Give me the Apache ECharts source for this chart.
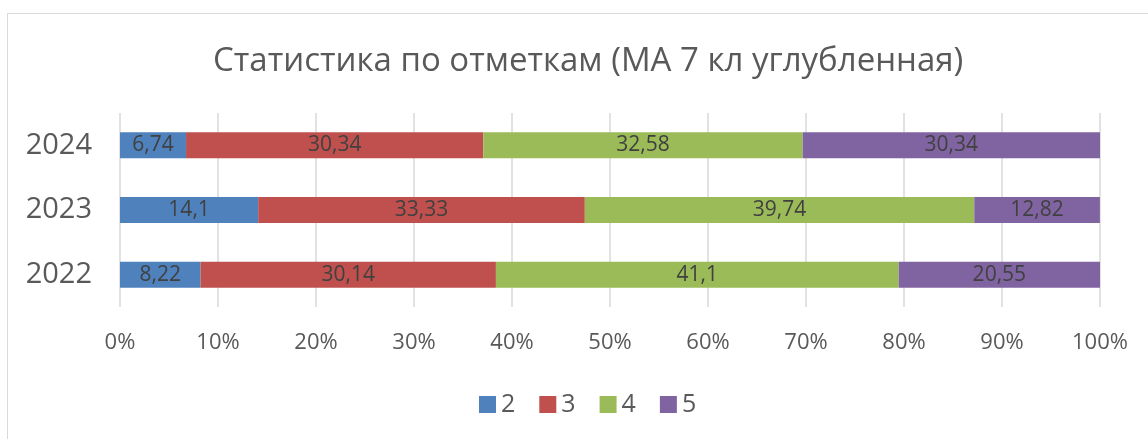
<!DOCTYPE html>
<html>
<head>
<meta charset="utf-8">
<script src="https://cdn.jsdelivr.net/npm/echarts@6/dist/echarts.min.js"></script>
<style>
  html, body { margin: 0; padding: 0; background: #fff; }
  #frame { position: absolute; left: 7px; top: 13px; width: 1200px; height: 500px; border: 1px solid #d9d9d9; }
  #chart { width: 1148px; height: 439px; position: absolute; left: 0; top: 0; }
</style>
</head>
<body>
<div id="frame"></div>
<div id="chart"></div>
<script>
// годы и доли отметок, %
const years = ['2022', '2023', '2024']
const marks = ['2', '3', '4', '5']
const mark2 = [8.22, 14.1, 6.74]
const mark3 = [30.14, 33.33, 30.34]
const mark4 = [41.1, 39.74, 32.58]
const mark5 = [20.55, 12.82, 30.34]
const tickValues = [0, 10, 20, 30, 40, 50, 60, 70, 80, 90, 100]

const colors = ['#4F81BD', '#C0504D', '#9BBB59', '#8064A2']
const font = '"Open Sans", "Noto Sans", sans-serif'

const chart = echarts.init(document.getElementById('chart'))

function makeSeries (name, data) {
  return {
    name: name,
    type: 'bar',
    stack: 'all',
    barWidth: 26,
    silent: true,
    data: data,
    label: {
      show: true,
      position: 'inside',
      color: '#404040',
      fontFamily: font,
      fontSize: 21,
      formatter: p => String(p.value).replace('.', ',')
    }
  }
}

const option = {
  color: colors,
  animation: false,
  title: {
    text: 'Статистика по отметкам (МА 7 кл углубленная)',
    left: 208,
    top: 40,
    textStyle: { color: '#595959', fontFamily: font, fontSize: 33, fontWeight: 'normal' }
  },
  legend: {
    data: marks,
    bottom: 17,
    left: 474,
    itemWidth: 17,
    itemHeight: 17,
    itemGap: 24,
    icon: 'rect',
    textStyle: { color: '#595959', fontFamily: font, fontSize: 25 }
  },
  grid: { left: 120, right: 48, top: 113, bottom: 132, containLabel: false },
  xAxis: {
    type: 'value',
    min: 0,
    max: 100,
    interval: 10,
    axisLine: { show: false },
    axisTick: { show: false },
    splitLine: { lineStyle: { color: '#d9d9d9', width: 1.5 } },
    axisLabel: {
      color: '#595959',
      fontFamily: font,
      fontSize: 22,
      margin: 25,
      formatter: v => tickValues.includes(v) ? v + '%' : ''
    }
  },
  yAxis: {
    type: 'category',
    data: years,
    axisLine: { show: false },
    axisTick: { show: false },
    axisLabel: { color: '#595959', fontFamily: font, fontSize: 29, margin: 28 }
  },
  series: [
    makeSeries(marks[0], mark2),
    makeSeries(marks[1], mark3),
    makeSeries(marks[2], mark4),
    makeSeries(marks[3], mark5)
  ]
}
chart.setOption(option)
</script>
</body>
</html>
